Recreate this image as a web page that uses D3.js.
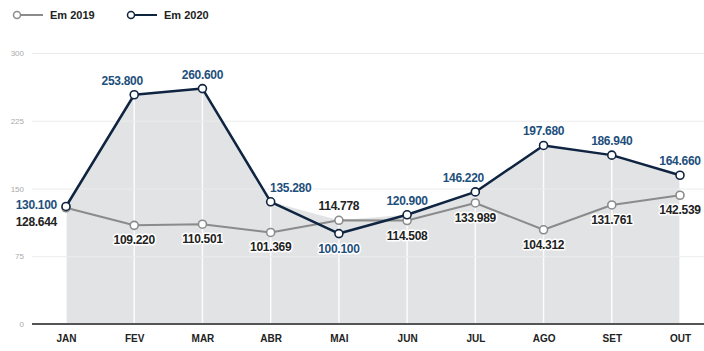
<!DOCTYPE html>
<html>
<head>
<meta charset="utf-8">
<script src="https://cdn.jsdelivr.net/npm/d3@7"></script>
<style>
  body { margin: 0; background: #fff; }
  svg { display: block; font-family: "Liberation Sans", Arial, sans-serif; }
</style>
</head>
<body>
<svg id="chart" width="704" height="351"></svg>
<script>
var months = ["JAN", "FEV", "MAR", "ABR", "MAI", "JUN", "JUL", "AGO", "SET", "OUT"];
var values2019 = [128.644, 109.220, 110.501, 101.369, 114.778, 114.508, 133.989, 104.312, 131.761, 142.539];
var values2020 = [130.100, 253.800, 260.600, 135.280, 100.100, 120.900, 146.220, 197.680, 186.940, 164.660];
var yTicks = [0, 75, 150, 225, 300];
var seriesNames = ["Em 2019", "Em 2020"];
// where each value label sits relative to its point
var place2019 = ["left", "below", "below", "below", "above", "below", "below", "below", "below", "below"];
var place2020 = ["left", "aboveLeft", "above", "aboveRight", "below", "above", "aboveLeft", "above", "above", "above"];

function fmt(v) { return v.toFixed(3); }

var svg = d3.select("#chart"),
    margins = {"left": 32, "right": 0, "top": 53, "bottom": 27},
    width = 704, height = 351;

var x = d3.scalePoint().domain(months).range([66, 680]),
    y = d3.scaleLinear().domain([0, 300]).range([height - margins.bottom, margins.top]);

var col2019 = "#8b8b8b", col2020 = "#0f2440", lab2020 = "#1d4f7c";

// legend
var legend = svg.append("g").attr("transform", "translate(0,15)");
[[seriesNames[0], col2019, 17], [seriesNames[1], col2020, 131]].forEach(function(s) {
    legend.append("line").attr("x1", s[2]).attr("x2", s[2] + 26).attr("y1", 0).attr("y2", 0)
        .attr("stroke", s[1]).attr("stroke-width", 2);
    legend.append("circle").attr("cx", s[2]).attr("cy", 0).attr("r", 3.5)
        .attr("fill", "#fff").attr("stroke", s[1]).attr("stroke-width", 1.5);
    legend.append("text").attr("x", s[2] + 33).attr("y", 4).text(s[0])
        .style("font-size", "11px").style("font-weight", "bold").attr("fill", "#222");
});

// shaded area under both series
var maxVals = months.map((m, i) => Math.max(values2019[i], values2020[i]));
svg.append("path")
    .datum(months)
    .attr("fill", "#e2e3e5")
    .attr("d", d3.area().x(d => x(d)).y0(y(0)).y1((d, i) => y(maxVals[i])));

// vertical white guides
svg.append("g").selectAll("line").data(months).enter().append("line")
    .attr("x1", d => x(d)).attr("x2", d => x(d))
    .attr("y1", y(0)).attr("y2", (d, i) => y(maxVals[i]))
    .attr("stroke", "#fff").attr("stroke-width", 1.5).attr("opacity", 0.9);

// y axis grid
var yAxis = d3.axisLeft(y).tickValues(yTicks).tickSize(-(width - margins.left)).tickFormat(d3.format("d"));
var gy = svg.append("g").attr("transform", "translate(" + [margins.left, 0] + ")").call(yAxis);
gy.select(".domain").remove();
gy.selectAll(".tick line").attr("stroke", "#ececec").attr("stroke-width", 1);
gy.selectAll(".tick text").attr("x", -8).attr("fill", "#aaa").style("font-size", "8px")
    .style("font-family", "'Liberation Sans', Arial, sans-serif");

// baseline
svg.append("line").attr("x1", margins.left).attr("x2", width).attr("y1", y(0)).attr("y2", y(0))
    .attr("stroke", "#555").attr("stroke-width", 2);

// x axis labels
var xAxis = d3.axisBottom(x).tickSize(0).tickPadding(11);
var gx = svg.append("g").attr("transform", "translate(" + [0, y(0)] + ")").call(xAxis);
gx.select(".domain").remove();
gx.selectAll(".tick text").attr("fill", "#222").style("font-size", "10px").style("font-weight", "bold")
    .style("font-family", "'Liberation Sans', Arial, sans-serif");

function drawSeries(vals, color, w) {
    var line = d3.line().x((d, i) => x(months[i])).y(d => y(d));
    svg.append("path").datum(vals).attr("fill", "none").attr("stroke", color)
        .attr("stroke-width", w).attr("stroke-linejoin", "round").attr("d", line);
}
drawSeries(values2019, col2019, 2);
drawSeries(values2020, col2020, 2.5);

function drawPoints(vals, color) {
    svg.append("g").selectAll("circle").data(vals).enter().append("circle")
        .attr("cx", (d, i) => x(months[i])).attr("cy", d => y(d)).attr("r", 4)
        .attr("fill", "#fff").attr("stroke", color).attr("stroke-width", 1.6);
}
drawPoints(values2019, col2019);
drawPoints(values2020, col2020);

var shiftX = {"left": -9, "above": 0, "aboveLeft": -12, "aboveRight": 20, "below": 0};
function drawLabels(vals, places, color, leftDy) {
    svg.append("g").selectAll("text").data(vals).enter().append("text")
        .attr("x", (d, i) => x(months[i]) + shiftX[places[i]])
        .attr("y", (d, i) => {
            var p = places[i];
            if (p == "below") return y(d) + 19;
            if (p == "left") return y(d) + leftDy;
            return y(d) - 10;
        })
        .attr("text-anchor", (d, i) => places[i] == "left" ? "end" : "middle")
        .text(d => fmt(d))
        .attr("fill", color)
        .attr("stroke", "#fff").attr("stroke-width", 3).attr("stroke-linejoin", "round")
        .style("paint-order", "stroke")
        .style("font-size", "12px").style("font-weight", "bold").style("letter-spacing", "-0.3px");
}
drawLabels(values2019, place2019, "#222", 18);
drawLabels(values2020, place2020, lab2020, 3);
</script>
</body>
</html>
